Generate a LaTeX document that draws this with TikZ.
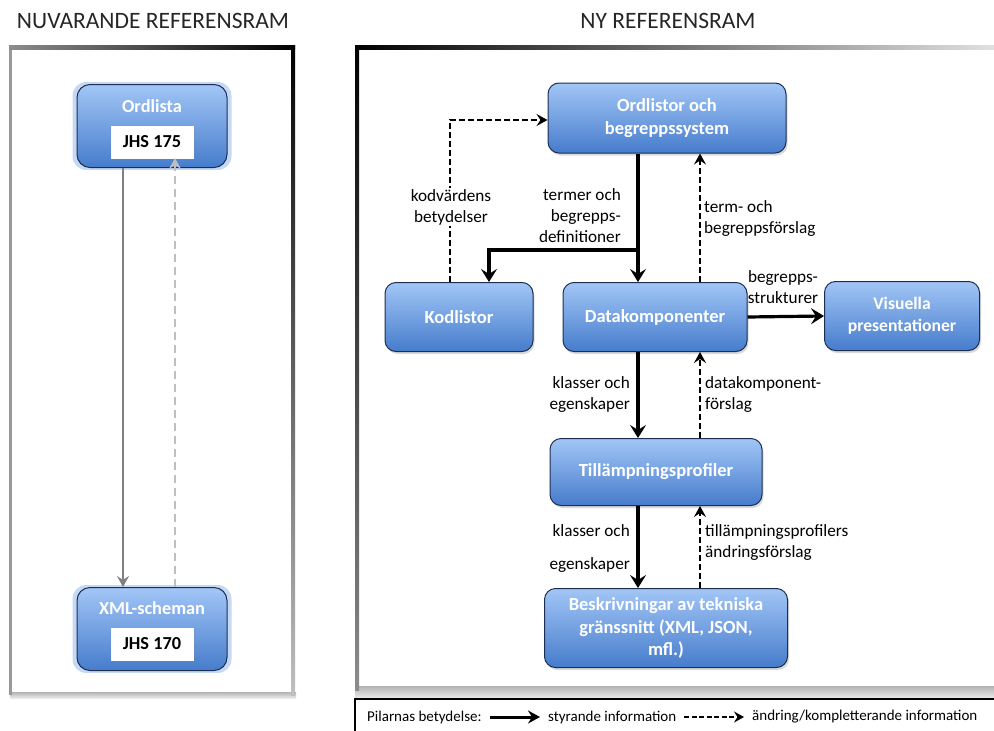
\documentclass[tikz,border=0pt]{standalone}
\usepackage{fontspec}
\setmainfont{Carlito}
\usetikzlibrary{arrows.meta,shadows,calc}
\definecolor{boxtop}{RGB}{162,198,246}
\definecolor{boxbot}{RGB}{70,124,204}
\definecolor{boxline}{RGB}{30,46,82}
\definecolor{glow}{RGB}{150,185,235}
\tikzset{
  bluebox/.style={draw=boxline, line width=1pt, rounded corners=11pt, top color=boxtop, bottom color=boxbot,
    text=white, font=\bfseries\fontsize{18.5}{22.5}\selectfont, align=center, inner sep=0pt,
    drop shadow={shadow xshift=1.5pt, shadow yshift=-2.5pt, opacity=0.3}},
  leftbox/.style={draw=boxline, line width=1pt, rounded corners=13pt, top color=boxtop, bottom color=boxbot,
    minimum width=150pt, minimum height=83pt, inner sep=0pt,
    general shadow={fill=glow, opacity=0.55, shadow scale=1.06}},
  boxlabel/.style={text=white, font=\bfseries\fontsize{18.3}{22}\selectfont, inner sep=0pt},
  whitebox/.style={fill=white, minimum width=83pt, minimum height=33pt, inner sep=0pt,
    font=\bfseries\fontsize{18.3}{22}\selectfont, text=black,
    drop shadow={shadow xshift=1pt, shadow yshift=-1pt, opacity=0.2}},
  lbl/.style={font=\fontsize{17.2}{21}\selectfont, text=black, inner sep=1pt},
  title/.style={font=\fontsize{23.5}{28}\selectfont, text=black!85, inner sep=0pt},
  legtext/.style={font=\fontsize{15}{18}\selectfont, text=black, inner sep=0pt},
  solidarr/.style={line width=3.2pt, -{Stealth[length=13pt,width=16pt,inset=5pt]}},
  dasharr/.style={line width=1.8pt, dash pattern=on 6pt off 3pt, -{Stealth[length=11pt,width=12pt,inset=4pt]}},
  grayarr/.style={line width=1.8pt, draw=black!50, -{Stealth[length=11pt,width=12pt,inset=4pt]}},
  graydash/.style={line width=2.2pt, draw=black!25, dash pattern=on 8pt off 5pt, -{Stealth[length=11pt,width=12pt,inset=4pt]}},
}
\begin{document}
\begin{tikzpicture}[x=1pt,y=-1pt]
\useasboundingbox (0,0) rectangle (994,731);
\clip (0,0) rectangle (994,731);

% titles
\node[title] (t1) at (153,21) {NUVARANDE REFERENSRAM};
\node[title] (t2) at (668,21) {NY REFERENSRAM};

% left frame
\shade[top color=black!30, bottom color=black!8] (10,692) rectangle (296,698);
\fill[black!40] (9,47) rectangle (12,695);
\shade[left color=black!45, right color=black] (9,45) rectangle (295,49);
\shade[top color=black, bottom color=black!25] (291,45) rectangle (295,695);

% right frame
\shade[top color=black!30, bottom color=black!10] (355,686) rectangle (994,697);
\shade[top color=black, bottom color=black!45] (355,45) rectangle (359,690);
\shade[left color=black, right color=black!12] (355,45) rectangle (994,49);

% legend
\draw[line width=1.3pt] (355,740) -- (355,699) -- (1000,699);
\node[legtext, anchor=west] (leg0) at (367,717) {Pilarnas betydelse:};
\node[legtext, anchor=west] (leg1) at (548,717) {styrande information};
\node[legtext, anchor=west] (leg2) at (752,717) {ändring/kompletterande information};
\draw[line width=3pt, -{Stealth[length=12pt,width=13pt,inset=4pt]}, shorten <=8pt, shorten >=8pt] (leg0.east) -- (leg1.west);
\draw[line width=2pt, dash pattern=on 5pt off 2.5pt, -{Stealth[length=10pt,width=11pt,inset=3.5pt]}, shorten <=8pt, shorten >=8pt] (leg1.east) -- (leg2.west);

% left diagram
\node[leftbox] (ordlista) at (152,126) {};
\node[boxlabel] (ordlistaL) at (152,106) {Ordlista};
\node[whitebox] (jhs175) at (152,142) {JHS 175};
\node[leftbox] (xml) at (152,629) {};
\node[boxlabel] (xmlL) at (152,608) {XML-scheman};
\node[whitebox] (jhs170) at (152,644) {JHS 170};
\coordinate (lx1) at (123,0);
\coordinate (lx2) at (175,0);
\draw[grayarr] (ordlista.south -| lx1) -- (xml.north -| lx1);
\draw[graydash] (xml.north -| lx2) -- ([yshift=10pt]ordlista.south -| lx2);

% right diagram boxes
\node[bluebox, minimum width=238pt, minimum height=70pt] (ord) at (667,118) {Ordlistor och\\begreppssystem};
\node[bluebox, minimum width=148pt, minimum height=69pt] (kod) at (459,317) {Kodlistor};
\node[bluebox, minimum width=184pt, minimum height=69pt] (dat) at (655,317) {Datakomponenter};
\node[bluebox, minimum width=155pt, minimum height=69pt, font=\bfseries\fontsize{17.6}{22}\selectfont] (vis) at (902,316) {Visuella\\presentationer};
\node[bluebox, minimum width=212pt, minimum height=67pt] (til) at (656,472) {Tillämpningsprofiler};
\node[bluebox, minimum width=243pt, minimum height=79pt] (bes) at (666,628) {Beskrivningar av tekniska\\gränssnitt (XML, JSON,\\mfl.)};

% connector coordinates
\coordinate (xs) at (638,250);
\coordinate (xd) at (700,0);
\coordinate (xk) at (489,0);
\coordinate (xkd) at (450,120);

% arrows
\draw[solidarr] (ord.south -| xs) -- (dat.north -| xs);
\draw[solidarr] (xs) -| (kod.north -| xk);
\draw[dasharr] (kod.north -| xkd) |- (ord.west |- xkd);
\draw[dasharr] (dat.north -| xd) -- (ord.south -| xd);
\draw[solidarr] (dat.east) -- (vis.west);
\draw[solidarr] (dat.south -| xs) -- (til.north -| xs);
\draw[dasharr] (til.north -| xd) -- (dat.south -| xd);
\draw[solidarr] (til.south -| xs) -- (bes.north -| xs);
\draw[dasharr] (bes.north -| xd) -- (til.south -| xd);

% labels
\node[lbl, fill=white, align=center] (l1) at (451,207) {kodvärdens\\betydelser};
\node[lbl, align=right, anchor=east] (l2) at (622,216) {termer och\\begrepps-\\definitioner};
\node[lbl, align=left, anchor=west] (l3) at (703,219) {term- och\\begreppsförslag};
\node[lbl, align=center] (l4) at (783,287) {begrepps-\\strukturer};
\node[lbl, align=right, anchor=east] (l5) at (631,395) {klasser och\\egenskaper};
\node[lbl, align=left, anchor=west] (l6) at (704,395) {datakomponent-\\förslag};
\node[lbl, align=right, anchor=east, font=\fontsize{17.2}{33}\selectfont] (l7) at (631,549) {klasser och\\egenskaper};
\node[lbl, align=left, anchor=west] (l8) at (704,543) {tillämpningsprofilers\\ändringsförslag};
\end{tikzpicture}
\end{document}
